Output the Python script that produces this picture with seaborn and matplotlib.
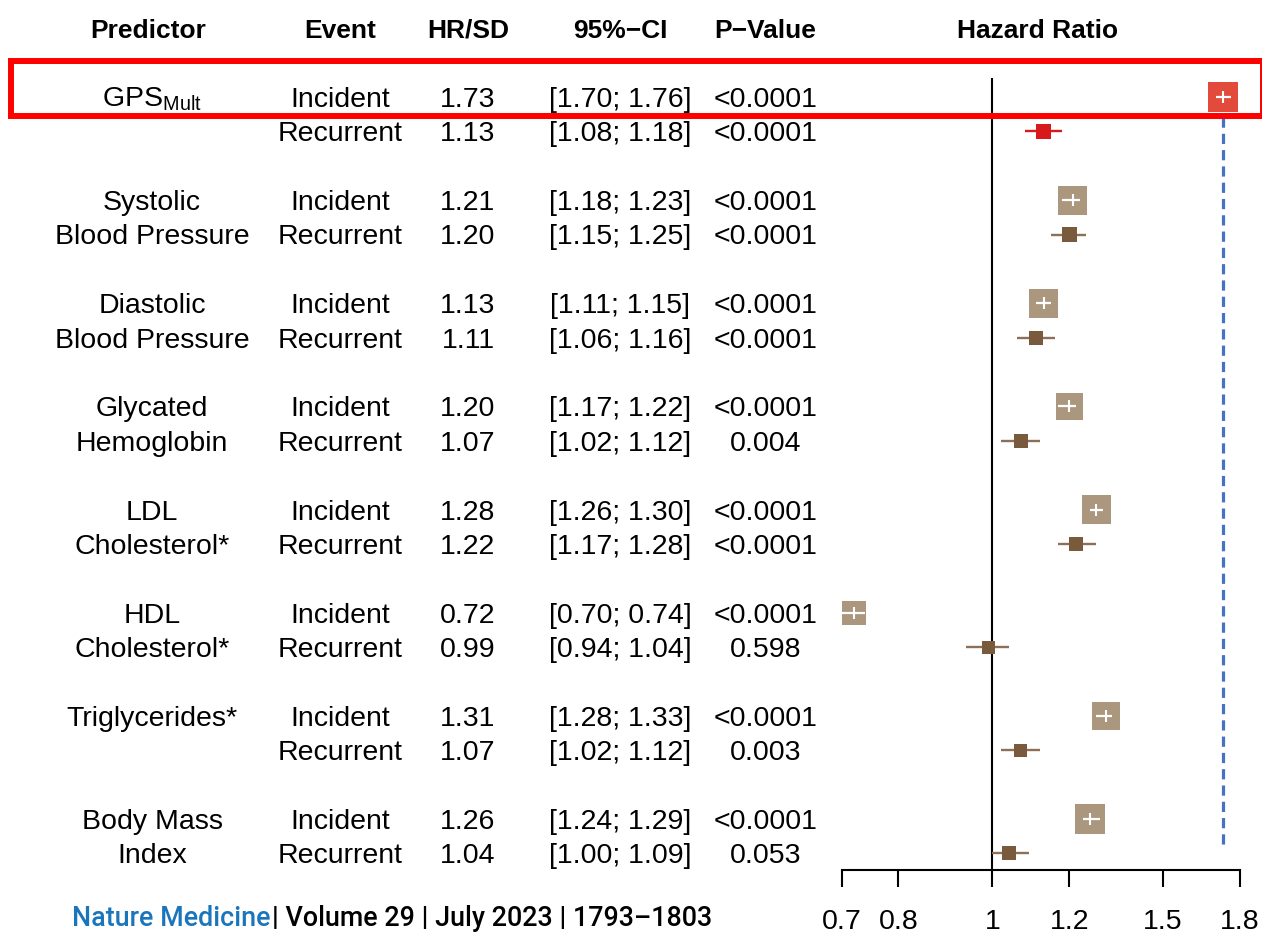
import numpy as np
import pandas as pd
import matplotlib
matplotlib.use("Agg")
import matplotlib.pyplot as plt
import seaborn as sns
from matplotlib.transforms import blended_transform_factory
from matplotlib.patches import Rectangle

# ---------------- data ----------------
predictor_line1 = [r"GPS$_{\mathregular{Mult}}$", "Systolic", "Diastolic", "Glycated",
                   "LDL", "HDL", "Triglycerides*", "Body Mass"]
predictor_line2 = ["", "Blood Pressure", "Blood Pressure", "Hemoglobin",
                   "Cholesterol*", "Cholesterol*", "", "Index"]
events = ["Incident", "Recurrent"]

hr_inc = [1.73, 1.21, 1.13, 1.20, 1.28, 0.72, 1.31, 1.26]
lo_inc = [1.70, 1.18, 1.11, 1.17, 1.26, 0.70, 1.28, 1.24]
hi_inc = [1.76, 1.23, 1.15, 1.22, 1.30, 0.74, 1.33, 1.29]
p_inc = ["<0.0001"] * 8

hr_rec = [1.13, 1.20, 1.11, 1.07, 1.22, 0.99, 1.07, 1.04]
lo_rec = [1.08, 1.15, 1.06, 1.02, 1.17, 0.94, 1.02, 1.00]
hi_rec = [1.18, 1.25, 1.16, 1.12, 1.28, 1.04, 1.12, 1.09]
p_rec = ["<0.0001", "<0.0001", "<0.0001", "0.004", "<0.0001", "0.598", "0.003", "0.053"]

xticks = [0.7, 0.8, 1, 1.2, 1.5, 1.8]
xtick_labels = ["0.7", "0.8", "1", "1.2", "1.5", "1.8"]
reference_hr = 1.73

headers = ["Predictor", "Event", "HR/SD", "95%\u2212CI", "P\u2212Value", "Hazard Ratio"]
footer_journal = "Nature Medicine"
footer_rest = "| Volume 29 | July 2023 | 1793\u20131803"

# ---------------- style ----------------
box_px_inc = [30, 29, 29, 27, 29, 24, 28, 30]
box_px_rec = [15, 15, 14, 14, 14, 13, 13, 14]
col_tan = "#ab977d"
col_brown = "#7a5a3d"
col_brown_line = "#8c6f56"
col_red_inc = "#e24b3b"
col_red_rec = "#d7191c"

sns.set_theme(style="white")
plt.rcParams["font.family"] = ["Liberation Sans", "DejaVu Sans"]
plt.rcParams["mathtext.fontset"] = "custom"
plt.rcParams["mathtext.rm"] = "Liberation Sans"
plt.rcParams["mathtext.default"] = "regular"
plt.rcParams["text.color"] = "black"
plt.rcParams["xtick.color"] = "black"
plt.rcParams["xtick.labelcolor"] = "black"

W, H = 1262, 936
fig = plt.figure(figsize=(W / 100, H / 100), dpi=100)

row_px0 = 97.0
row_px = 34.38
ax_top_px, ax_bot_px = 78, 870
ax_left_px, ax_right_px = 842, 1240
ax = fig.add_axes([ax_left_px / W, 1 - ax_bot_px / H,
                   (ax_right_px - ax_left_px) / W, (ax_bot_px - ax_top_px) / H])
ax.set_xscale("log")
ax.set_xlim(0.7, 1.8)
ax.set_ylim((ax_bot_px - row_px0) / row_px, (ax_top_px - row_px0) / row_px)
ax.set_facecolor("none")

n = len(hr_inc)
rows_inc = [3 * g for g in range(n)]
rows_rec = [3 * g + 1 for g in range(n)]

df = pd.DataFrame({
    "hr": hr_inc + hr_rec,
    "lo": lo_inc + lo_rec,
    "hi": hi_inc + hi_rec,
    "row": rows_inc + rows_rec,
    "kind": (["gps_inc"] + ["inc"] * (n - 1)) + (["gps_rec"] + ["rec"] * (n - 1)),
})
box_px = np.array(box_px_inc + box_px_rec, dtype=float)
areas = (box_px * 0.72) ** 2

palette = {"gps_inc": col_red_inc, "inc": col_tan, "gps_rec": col_red_rec, "rec": col_brown}

ax.axvline(1, color="black", lw=1.5, zorder=1)
ax.vlines(reference_hr, 0.58, 21.9, colors="#4472c4", lw=2.3,
          linestyles=(0, (3.2, 1.9)), zorder=1)

rec = df.iloc[n:]
line_cols = [col_red_rec] + [col_brown_line] * (n - 1)
ax.hlines(rec["row"], rec["lo"], rec["hi"], colors=line_cols, lw=1.7, zorder=2)

sns.scatterplot(data=df, x="hr", y="row", hue="kind", palette=palette, marker="s",
                s=areas, linewidth=0, legend=False, ax=ax, zorder=3, clip_on=False)

inc = df.iloc[:n]
ax.hlines(inc["row"], inc["lo"], inc["hi"], colors="white", lw=1.6, zorder=4, clip_on=False)
ax.plot(inc["hr"], inc["row"], ls="none", marker="|", color="white", markersize=8.5,
        mew=1.5, zorder=5, clip_on=False)

for s in ["top", "right", "left"]:
    ax.spines[s].set_visible(False)
ax.spines["bottom"].set_linewidth(1.5)
ax.spines["bottom"].set_color("black")
ax.set_xticks(xticks)
ax.set_xticklabels(xtick_labels)
ax.xaxis.set_minor_locator(matplotlib.ticker.NullLocator())
ax.tick_params(axis="x", direction="out", length=12, width=1.5, color="black",
               labelcolor="black", pad=16, labelsize=20.5, bottom=True)
ax.set_yticks([])
ax.set_xlabel("")
ax.set_ylabel("")

# ---------------- table text ----------------
tr = blended_transform_factory(fig.transFigure, ax.transData)
fs = 20.5
base_off = 0.29
x_pred, x_event, x_hr, x_ci, x_p = 152, 340, 468, 620, 766

def put(xpx, row, txt, **kw):
    ax.text(xpx / W, row + base_off, txt, transform=tr, ha="center", va="baseline",
            fontsize=fs, color="black", clip_on=False, **kw)

for g in range(n):
    ri, rr = rows_inc[g], rows_rec[g]
    put(x_pred, ri, predictor_line1[g])
    if predictor_line2[g]:
        put(x_pred, rr, predictor_line2[g])
    put(x_event, ri, events[0])
    put(x_event, rr, events[1])
    put(x_hr, ri, f"{hr_inc[g]:.2f}")
    put(x_hr, rr, f"{hr_rec[g]:.2f}")
    put(x_ci, ri, f"[{lo_inc[g]:.2f}; {hi_inc[g]:.2f}]")
    put(x_ci, rr, f"[{lo_rec[g]:.2f}; {hi_rec[g]:.2f}]")
    put(x_p, ri, p_inc[g])
    put(x_p, rr, p_rec[g])

header_x = [148, 340, 468, 620, 765, 1038]
for hx, ht in zip(header_x, headers):
    fig.text(hx / W, 1 - 38 / H, ht, ha="center", va="baseline", fontsize=19,
             fontweight="bold", color="black")

fig.patches.append(Rectangle((11 / W, 1 - 116 / H), (1263 - 11) / W, 55 / H,
                             transform=fig.transFigure, fill=False,
                             edgecolor="#ff0000", lw=4.3, zorder=10))

# footer (fit to the reference width)
fig.canvas.draw()
renderer = fig.canvas.get_renderer()
ffam = ["Roboto", "DejaVu Sans"]
ffs = 17.5
target_w = 712 - 72
t1 = fig.text(72 / W, 1 - 926 / H, footer_journal, ha="left", va="baseline",
              fontsize=ffs, color="#1b75bb", fontweight="medium", family=ffam)
t2 = fig.text(0, 1 - 926 / H, footer_rest, ha="left", va="baseline",
              fontsize=ffs, color="black", fontweight="medium", family=ffam)
for _ in range(2):
    fig.canvas.draw()
    b1 = t1.get_window_extent(renderer)
    t2.set_x((b1.x1 + 2) / W)
    fig.canvas.draw()
    b2 = t2.get_window_extent(renderer)
    total = b2.x1 - b1.x0
    ffs = ffs * target_w / total
    t1.set_fontsize(ffs)
    t2.set_fontsize(ffs)
fig.canvas.draw()
b1 = t1.get_window_extent(renderer)
t2.set_x((b1.x1 + 2) / W)

fig.savefig("out.png", dpi=100)
